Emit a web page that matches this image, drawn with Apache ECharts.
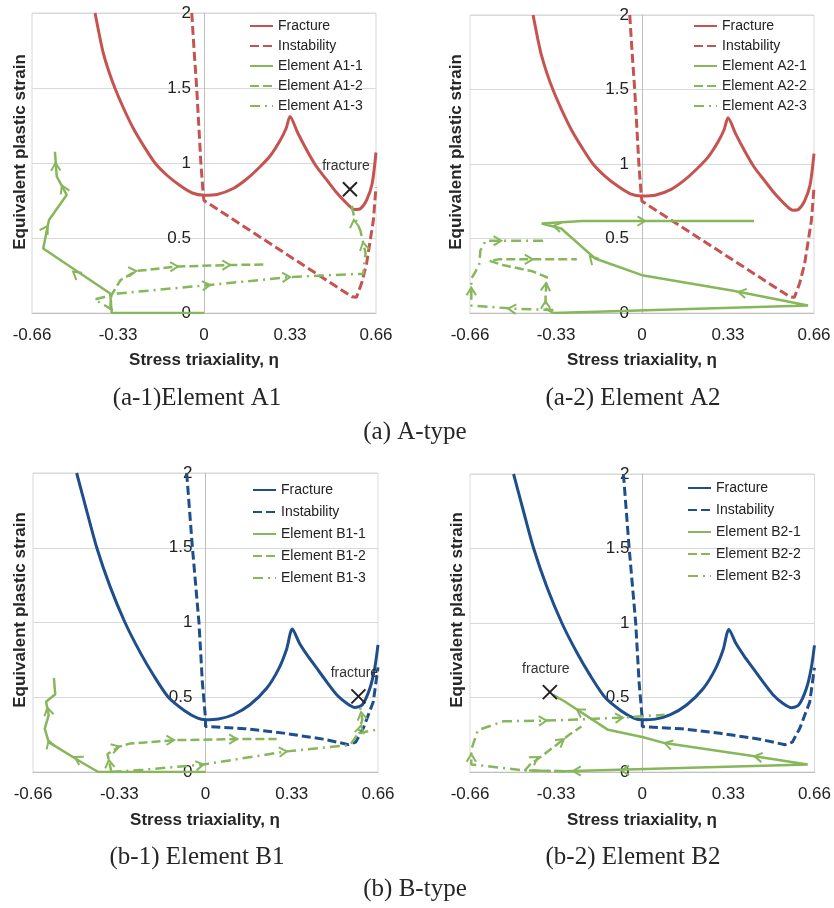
<!DOCTYPE html>
<html>
<head>
<meta charset="utf-8">
<script src="https://cdn.jsdelivr.net/npm/echarts@6/dist/echarts.min.js"></script>
<style>
html, body { margin: 0; padding: 0; background: #fff; }
#main { width: 834px; height: 908px; }
</style>
</head>
<body>
<div id="main"></div>
<script>
// axis ticks
var etaTicks = [-0.66, -0.33, 0, 0.33, 0.66];
var epsTicks = [0, 0.5, 1, 1.5, 2];

// A-type material curves
var fracA_eta = [-0.418,-0.40,-0.386,-0.365,-0.342,-0.31,-0.271,-0.23,-0.188,-0.14,-0.092,-0.045,0,0.05,0.112,0.165,0.215,0.255,0.292,0.315,0.33,0.36,0.394,0.43,0.471,0.505,0.535,0.56,0.579,0.60,0.624,0.645,0.66];
var fracA_eps = [2.0,1.84,1.73,1.61,1.5,1.37,1.23,1.11,1.0,0.915,0.85,0.80,0.785,0.79,0.83,0.895,0.975,1.05,1.15,1.23,1.31,1.2,1.087,0.98,0.887,0.81,0.753,0.71,0.69,0.695,0.753,0.86,1.07];
var instA_eta = [-0.047,-0.038,-0.028,-0.02,-0.012,-0.003,0,0.567,0.585,0.605,0.624,0.65,0.66];
var instA_eps = [2.0,1.75,1.5,1.25,1.0,0.79,0.75,0.109,0.105,0.2,0.33,0.62,0.84];

// B-type material curves
var fracB_eta = [-0.493,-0.455,-0.416,-0.365,-0.308,-0.25,-0.2,-0.142,-0.08,-0.03,0,0.05,0.106,0.17,0.234,0.28,0.31,0.332,0.36,0.39,0.425,0.465,0.502,0.54,0.572,0.6,0.629,0.648,0.66];
var fracB_eps = [2.0,1.75,1.5,1.24,1.0,0.80,0.65,0.5,0.41,0.36,0.35,0.355,0.383,0.45,0.56,0.69,0.82,0.957,0.86,0.78,0.696,0.6,0.517,0.46,0.432,0.45,0.56,0.7,0.85];
var instB_eta = [-0.072,-0.05,-0.025,-0.012,0,0,0.15,0.298,0.45,0.547,0.575,0.604,0.642,0.66];
var instB_eps = [2.0,1.5,1.0,0.6,0.36,0.305,0.29,0.26,0.22,0.183,0.2,0.294,0.47,0.70];

// element paths: A1
var a1_1_eta = [0,-0.354,-0.36,-0.617,-0.595,-0.527,-0.565,-0.572];
var a1_1_eps = [0,0,0.13,0.43,0.62,0.787,0.91,1.075];
var a1_2_eta = [-0.36,-0.355,-0.32,-0.26,-0.1,0.1,0.228];
var a1_2_eps = [0.02,0.12,0.22,0.28,0.31,0.32,0.323];
var a1_3_eta = [-0.35,-0.42,-0.33,0.023,0.33,0.579,0.611,0.62,0.60,0.575,0.565];
var a1_3_eps = [0.02,0.09,0.13,0.187,0.24,0.26,0.26,0.40,0.55,0.65,0.73];
var a1_arrows = [[-0.502,0.275,-0.617,0.43],[-0.60,0.58,-0.527,0.787],[-0.545,0.85,-0.565,0.93],[-0.57,1.0,-0.572,1.075],
  [-0.26,0.28,-0.1,0.31],[-0.1,0.31,0.1,0.32],[0.1,0.32,0.228,0.323],
  [0.023,0.187,0.33,0.24],[0.33,0.24,0.579,0.26],[0.61,0.47,0.60,0.55],[0.575,0.62,0.57,0.7]];
var a1_fracture = [0.56, 0.825];

// element paths: A2
var a2_1_eta = [-0.34,0.637,0.35,0.0,-0.18,-0.31,-0.385,-0.23,0.43];
var a2_1_eps = [0.0,0.05,0.15,0.254,0.366,0.567,0.60,0.617,0.617];
var a2_2_eta = [-0.34,-0.37,-0.37,-0.365,-0.42,-0.53,-0.585,-0.55,-0.25];
var a2_2_eps = [0.0,0.03,0.12,0.24,0.28,0.32,0.35,0.36,0.36];
var a2_3_eta = [-0.34,-0.5,-0.655,-0.655,-0.625,-0.62,-0.60,-0.37];
var a2_3_eps = [0.02,0.03,0.05,0.23,0.32,0.42,0.485,0.485];
var a2_arrows = [[0.012,0.617,0.43,0.617],[0.37,0.14,0.0,0.254],[-0.2,0.38,-0.31,0.567],[-0.34,0.585,-0.385,0.60],
  [-0.37,0.08,-0.37,0.15],[-0.368,0.2,-0.365,0.26],[-0.42,0.36,-0.25,0.36],
  [-0.513,0.03,-0.655,0.05],[-0.655,0.17,-0.655,0.23],[-0.54,0.485,-0.37,0.485]];

// element paths: B1
var b1_1_eta = [0,-0.41,-0.47,-0.60,-0.615,-0.60,-0.61,-0.575,-0.58];
var b1_1_eps = [0,0,0.06,0.2,0.29,0.38,0.47,0.52,0.63];
var b1_2_eta = [-0.36,-0.375,-0.33,-0.29,-0.12,0.12,0.272];
var b1_2_eps = [0.0,0.12,0.17,0.19,0.213,0.22,0.22];
var b1_3_eta = [-0.36,-0.238,-0.008,0.311,0.553,0.585,0.60,0.59];
var b1_3_eps = [0.0,0.015,0.05,0.138,0.18,0.26,0.35,0.45];
var b1_3b_eta = [0.585,0.655];
var b1_3b_eps = [0.26,0.283];
var b1_arrows = [[-0.5,0.1,-0.6,0.2],[-0.60,0.21,-0.615,0.29],[-0.605,0.43,-0.61,0.47],
  [-0.37,0.08,-0.375,0.14],[-0.33,0.17,-0.29,0.19],[-0.12,0.213,0.12,0.22],[0.12,0.22,0.272,0.22],
  [-0.008,0.05,0.311,0.138],[0.311,0.138,0.553,0.18],[0.595,0.31,0.60,0.35],[0.595,0.4,0.59,0.45]];
var b1_fracture = [0.585, 0.506];

// element paths: B2
var b2_1_eta = [-0.30,0.634,0.43,0.086,0,-0.131,-0.297,-0.341];
var b2_1_eps = [0.005,0.05,0.105,0.194,0.235,0.283,0.473,0.518];
var b2_2_eta = [-0.30,-0.45,-0.43,-0.39,-0.33,-0.28,-0.233];
var b2_2_eps = [0.005,0.01,0.05,0.1,0.18,0.25,0.305];
var b2_3_eta = [-0.30,-0.46,-0.6,-0.655,-0.655,-0.63,-0.533,-0.367,-0.277,-0.074,0.086];
var b2_3_eps = [0.005,0.012,0.04,0.05,0.15,0.28,0.34,0.345,0.35,0.365,0.384];
var b2_arrows = [[-0.08,0.01,-0.30,0.005],[-0.265,0.007,-0.40,0.008],
  [0.43,0.105,0.086,0.194],[0.086,0.194,0,0.235],[-0.25,0.42,-0.297,0.473],
  [-0.40,0.1,-0.33,0.18],[-0.30,0.22,-0.233,0.305],
  [-0.655,0.12,-0.655,0.18],[-0.367,0.345,-0.277,0.35],[-0.074,0.365,0.086,0.384]];
var b2_fracture = [-0.354, 0.536];

var RED = '#c55350', BLUE = '#1f4e8c', GREEN = '#86b75a';
var SANS = '"Liberation Sans", Arial, sans-serif';
var DASH = [9, 4], DASHDOT = [10, 5, 2, 5];

function zip(xs, ys) {
	var out = [];
	for (var i = 0; i < xs.length; i++) out.push([xs[i], ys[i]]);
	return out;
}

var panels = [
	{ id: 'A1', grid: { left: 32, top: 13, width: 344, height: 300 }, color: RED,
	  frac: zip(fracA_eta, fracA_eps), inst: zip(instA_eta, instA_eps),
	  e1: zip(a1_1_eta, a1_1_eps), e2: zip(a1_2_eta, a1_2_eps), e3: [zip(a1_3_eta, a1_3_eps)],
	  arrows: a1_arrows, mark: a1_fracture, legend: { left: 249, top: 19, itemGap: 6 } },
	{ id: 'A2', grid: { left: 470, top: 15, width: 344, height: 298 }, color: RED,
	  frac: zip(fracA_eta, fracA_eps), inst: zip(instA_eta, instA_eps),
	  e1: zip(a2_1_eta, a2_1_eps), e2: zip(a2_2_eta, a2_2_eps), e3: [zip(a2_3_eta, a2_3_eps)],
	  arrows: a2_arrows, mark: null, legend: { left: 693, top: 19, itemGap: 6 } },
	{ id: 'B1', grid: { left: 33, top: 473, width: 345, height: 299 }, color: BLUE,
	  frac: zip(fracB_eta, fracB_eps), inst: zip(instB_eta, instB_eps),
	  e1: zip(b1_1_eta, b1_1_eps), e2: zip(b1_2_eta, b1_2_eps), e3: [zip(b1_3_eta, b1_3_eps), zip(b1_3b_eta, b1_3b_eps)],
	  arrows: b1_arrows, mark: b1_fracture, legend: { left: 252, top: 483, itemGap: 8 } },
	{ id: 'B2', grid: { left: 470, top: 474, width: 345, height: 298 }, color: BLUE,
	  frac: zip(fracB_eta, fracB_eps), inst: zip(instB_eta, instB_eps),
	  e1: zip(b2_1_eta, b2_1_eps), e2: zip(b2_2_eta, b2_2_eps), e3: [zip(b2_3_eta, b2_3_eps)],
	  arrows: b2_arrows, mark: b2_fracture, legend: { left: 687, top: 481, itemGap: 8 } }
];

var grids = [], xAxes = [], yAxes = [], legends = [], series = [];

function lineSeries(name, gi, data, color, type, width, smooth) {
	return {
		type: 'line', name: name, xAxisIndex: gi, yAxisIndex: gi, data: data,
		symbol: 'none', showSymbol: false, animation: false, smooth: smooth || false,
		lineStyle: { color: color, width: width, type: type },
		itemStyle: { color: color }
	};
}

panels.forEach(function (p, gi) {
	var g = p.grid;
	grids.push({ left: g.left, top: g.top, width: g.width, height: g.height, show: true,
		borderColor: '#d9d9d9', borderWidth: 1, backgroundColor: 'transparent' });
	xAxes.push({
		type: 'value', gridIndex: gi,
		min: etaTicks[0], max: etaTicks[etaTicks.length - 1], interval: etaTicks[1] - etaTicks[0],
		axisLine: { show: true, onZero: false, lineStyle: { color: '#bfbfbf' } },
		axisTick: { show: false }, splitLine: { show: false },
		axisLabel: { fontSize: 17, color: '#222', fontFamily: SANS, margin: 14,
			formatter: function (v) { return String(+v.toFixed(2)); } }
	});
	// y axis drawn through eta = 0, in the middle of the plot
	yAxes.push({
		type: 'value', gridIndex: gi, position: 'left', offset: -g.width / 2,
		min: epsTicks[0], max: epsTicks[epsTicks.length - 1], interval: epsTicks[1] - epsTicks[0],
		axisLine: { show: true, onZero: false, lineStyle: { color: '#bfbfbf' } },
		axisTick: { show: false },
		splitLine: { show: true, lineStyle: { color: '#d9d9d9' } },
		axisLabel: { fontSize: 17, color: '#222', fontFamily: SANS, margin: 13 }
	});
	var names = [p.id + ':Fracture', p.id + ':Instability',
		p.id + ':Element ' + p.id + '-1', p.id + ':Element ' + p.id + '-2', p.id + ':Element ' + p.id + '-3'];
	legends.push({
		data: names, orient: 'vertical', left: p.legend.left, top: p.legend.top,
		itemWidth: 23, itemHeight: 14, itemGap: p.legend.itemGap, padding: 0,
		selectedMode: false,
		itemStyle: { opacity: 0 },
		textStyle: { fontSize: 14, color: '#222', fontFamily: SANS },
		formatter: function (n) { return n.split(':')[1]; }
	});
	series.push(lineSeries(names[0], gi, p.frac, p.color, 'solid', 3, 0.25));
	series.push(lineSeries(names[1], gi, p.inst, p.color, DASH, 3));
	series.push(lineSeries(names[2], gi, p.e1, GREEN, 'solid', 2.5));
	series.push(lineSeries(names[3], gi, p.e2, GREEN, DASH, 2.5));
	p.e3.forEach(function (d) {
		series.push(lineSeries(names[4], gi, d, GREEN, DASHDOT, 2.5));
	});
	// direction arrows on the element paths
	series.push({
		type: 'custom', xAxisIndex: gi, yAxisIndex: gi, data: p.arrows, animation: false, z: 4,
		renderItem: function (params, api) {
			var a = api.coord([api.value(0), api.value(1)]);
			var b = api.coord([api.value(2), api.value(3)]);
			var ang = Math.atan2(b[1] - a[1], b[0] - a[0]);
			var L = 9, w = 0.55;
			return {
				type: 'polyline',
				shape: { points: [
					[a[0] - L * Math.cos(ang - w), a[1] - L * Math.sin(ang - w)],
					a,
					[a[0] - L * Math.cos(ang + w), a[1] - L * Math.sin(ang + w)]
				] },
				style: { stroke: GREEN, lineWidth: 2, fill: null }
			};
		}
	});
	if (p.mark) {
		series.push({
			type: 'custom', xAxisIndex: gi, yAxisIndex: gi, data: [p.mark], animation: false, z: 5,
			renderItem: function (params, api) {
				var c = api.coord([api.value(0), api.value(1)]);
				var s = 7;
				return {
					type: 'group',
					children: [
						{ type: 'line', shape: { x1: c[0] - s, y1: c[1] - s, x2: c[0] + s, y2: c[1] + s },
						  style: { stroke: '#222', lineWidth: 2 } },
						{ type: 'line', shape: { x1: c[0] - s, y1: c[1] + s, x2: c[0] + s, y2: c[1] - s },
						  style: { stroke: '#222', lineWidth: 2 } },
						{ type: 'text', x: c[0] - 4, y: c[1] - 23,
						  style: { text: 'fracture', fill: '#333', font: '14px ' + SANS,
						           align: 'center', verticalAlign: 'middle' } }
					]
				};
			}
		});
	}
});

function txt(x, y, s, font, rot) {
	return { type: 'text', x: x, y: y, rotation: rot || 0,
		style: { text: s, font: font, fill: '#262626', align: 'center', verticalAlign: 'middle' } };
}
var titleFont = 'bold 17px ' + SANS;
var capFont = '25px "Liberation Serif", serif';
var graphics = [
	txt(20, 152, 'Equivalent plastic strain', titleFont, Math.PI / 2),
	txt(456, 152, 'Equivalent plastic strain', titleFont, Math.PI / 2),
	txt(20, 610, 'Equivalent plastic strain', titleFont, Math.PI / 2),
	txt(457, 610, 'Equivalent plastic strain', titleFont, Math.PI / 2),
	txt(204, 360, 'Stress triaxiality, η', titleFont),
	txt(642, 360, 'Stress triaxiality, η', titleFont),
	txt(205, 820, 'Stress triaxiality, η', titleFont),
	txt(642, 820, 'Stress triaxiality, η', titleFont),
	txt(197, 398, '(a-1)Element A1', capFont),
	txt(633, 398, '(a-2) Element A2', capFont),
	txt(415, 432, '(a) A-type', capFont),
	txt(197, 857, '(b-1) Element B1', capFont),
	txt(633, 857, '(b-2) Element B2', capFont),
	txt(415, 889, '(b) B-type', capFont)
];

var myChart = echarts.init(document.getElementById('main'));
myChart.setOption({
	animation: false,
	backgroundColor: '#fff',
	grid: grids,
	xAxis: xAxes,
	yAxis: yAxes,
	legend: legends,
	series: series,
	graphic: graphics
});
</script>
</body>
</html>
